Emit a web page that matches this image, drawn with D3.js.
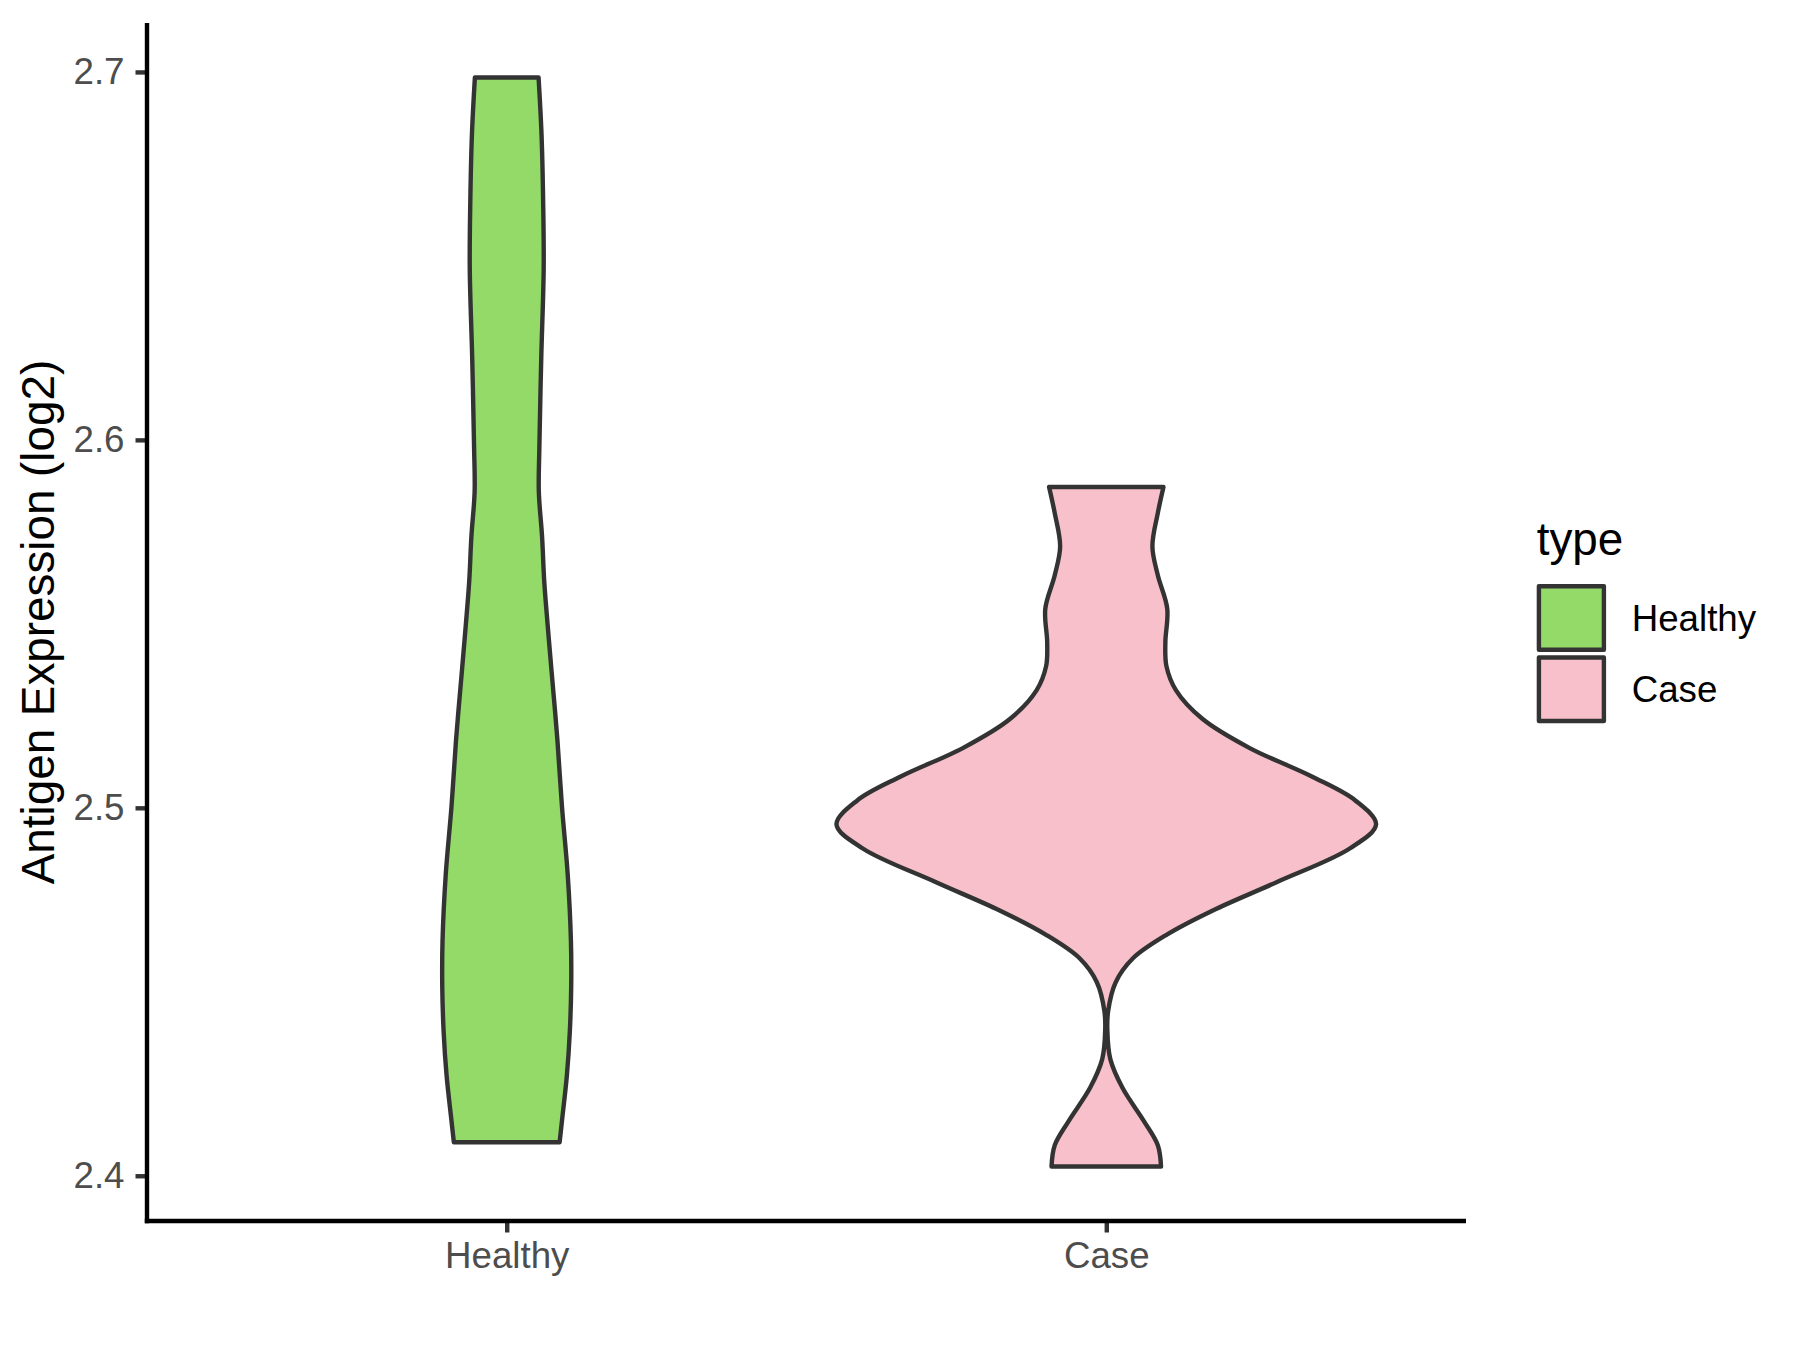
<!DOCTYPE html>
<html>
<head>
<meta charset="utf-8">
<script src="https://cdn.jsdelivr.net/npm/d3@7"></script>
<style>
    body { margin: 0; background: #fff; }
    text { font-family: "Liberation Sans", Arial, sans-serif; }
</style>
</head>
<body>
<div id="chart"></div>
<script>
var categories = ["Healthy", "Case"];
var yTicks = [2.4, 2.5, 2.6, 2.7];

// violin outlines: value on y, relative half width (1 = widest)
var healthyValues = [2.6985, 2.6830, 2.6648, 2.6465, 2.6223, 2.5980, 2.5859, 2.5737, 2.5616, 2.5494,
    2.5373, 2.5183, 2.5001, 2.4819, 2.4637, 2.4516, 2.4394, 2.4273, 2.4151, 2.4091];
var healthyWidths = [0.118, 0.129, 0.135, 0.137, 0.128, 0.121, 0.119, 0.131, 0.139, 0.152,
    0.166, 0.188, 0.205, 0.226, 0.238, 0.239, 0.234, 0.223, 0.205, 0.196];

var caseValues = [2.5872, 2.5801, 2.5710, 2.5632, 2.5541, 2.5450, 2.5385, 2.5320, 2.5242, 2.5163,
    2.5085, 2.5020, 2.4955, 2.4890, 2.4799, 2.4721, 2.4656, 2.4591, 2.4526, 2.4448,
    2.4395, 2.4317, 2.4239, 2.4148, 2.4083, 2.4025];
var caseWidths = [0.212, 0.191, 0.171, 0.191, 0.226, 0.219, 0.223, 0.258, 0.356, 0.530,
    0.762, 0.923, 1.000, 0.904, 0.635, 0.395, 0.226, 0.099, 0.035, 0.007,
    0.004, 0.015, 0.060, 0.140, 0.191, 0.203];

var colors = {"Healthy": "#93DA69", "Case": "#F8C0CB"};

var W = 1800, H = 1350;
var svg = d3.select("#chart").append("svg")
        .attr("width", W)
        .attr("height", H);

var panel = {left: 147, right: 1466, top: 23, bottom: 1221};

var series = [
    {key: "Healthy", pts: d3.zip(healthyValues, healthyWidths)},
    {key: "Case", pts: d3.zip(caseValues, caseWidths)}
];

// y domain: data range expanded by 5% like ggplot
var allValues = healthyValues.concat(caseValues);
var ext = d3.extent(allValues);
var pad = (ext[1] - ext[0]) * 0.05;
var y = d3.scaleLinear()
        .domain([ext[0] - pad, ext[1] + pad])
        .range([panel.bottom, panel.top]);

var x = d3.scalePoint()
        .domain(categories)
        .range([panel.left, panel.right])
        .padding(0.6);

var halfW = d3.scaleLinear().domain([0, 1]).range([0, x.step() * 0.45]);

// violins
var g = svg.append("g");
series.forEach(function (s) {
    var cx = x(s.key);
    var area = d3.area()
            .y(function (d) { return y(d[0]); })
            .x0(function (d) { return cx - halfW(d[1]); })
            .x1(function (d) { return cx + halfW(d[1]); })
            .curve(d3.curveCatmullRom.alpha(0.5));
    g.append("path")
            .datum(s.pts)
            .attr("d", area)
            .attr("fill", colors[s.key])
            .attr("stroke", "#333333")
            .attr("stroke-width", 4.4)
            .attr("stroke-linejoin", "round");
});

// axes
var yAxis = svg.append("g")
        .attr("transform", "translate(" + panel.left + ",0)")
        .call(d3.axisLeft(y).tickValues(yTicks).tickFormat(d3.format(".1f")).tickSize(11.5).tickPadding(11));
var xAxis = svg.append("g")
        .attr("transform", "translate(0," + panel.bottom + ")")
        .call(d3.axisBottom(x).tickSize(11.5).tickPadding(11));

[yAxis, xAxis].forEach(function (ax) {
    ax.select(".domain").remove();
    ax.selectAll(".tick line").attr("stroke", "#333333").attr("stroke-width", 4.4);
    ax.selectAll(".tick text")
            .attr("fill", "#4D4D4D")
            .style("font-size", "36.7px")
            .style("font-family", "'Liberation Sans', Arial, sans-serif");
});
xAxis.selectAll(".tick text").attr("y", 47).attr("dy", 0);

// axis lines (theme_classic)
svg.append("line")
        .attr("x1", panel.left).attr("x2", panel.left)
        .attr("y1", panel.top).attr("y2", panel.bottom + 2.2)
        .attr("stroke", "#000").attr("stroke-width", 4.4);
svg.append("line")
        .attr("x1", panel.left - 2.2).attr("x2", panel.right)
        .attr("y1", panel.bottom).attr("y2", panel.bottom)
        .attr("stroke", "#000").attr("stroke-width", 4.4);

// y title
svg.append("text")
        .attr("transform", "translate(53.5," + ((panel.top + panel.bottom) / 2) + ") rotate(-90)")
        .attr("text-anchor", "middle")
        .style("font-size", "45.8px")
        .attr("fill", "#000")
        .text("Antigen Expression (log2)");

// legend
var legend = svg.append("g").attr("transform", "translate(1536.7,0)");
legend.append("text")
        .attr("x", 0)
        .attr("y", 554.5)
        .style("font-size", "45.8px")
        .attr("fill", "#000")
        .text("type");

var keyPitch = 71.2;
categories.forEach(function (c, i) {
    var ky = 586.3 + i * keyPitch;
    legend.append("rect")
            .attr("x", 2.2)
            .attr("y", ky)
            .attr("width", 65)
            .attr("height", 63.5)
            .attr("fill", colors[c])
            .attr("stroke", "#333333")
            .attr("stroke-width", 4.4)
            .attr("stroke-linejoin", "round");
    legend.append("text")
            .attr("x", 95)
            .attr("y", ky + 44.5)
            .style("font-size", "36.7px")
            .attr("fill", "#000")
            .text(c);
});
</script>
</body>
</html>
